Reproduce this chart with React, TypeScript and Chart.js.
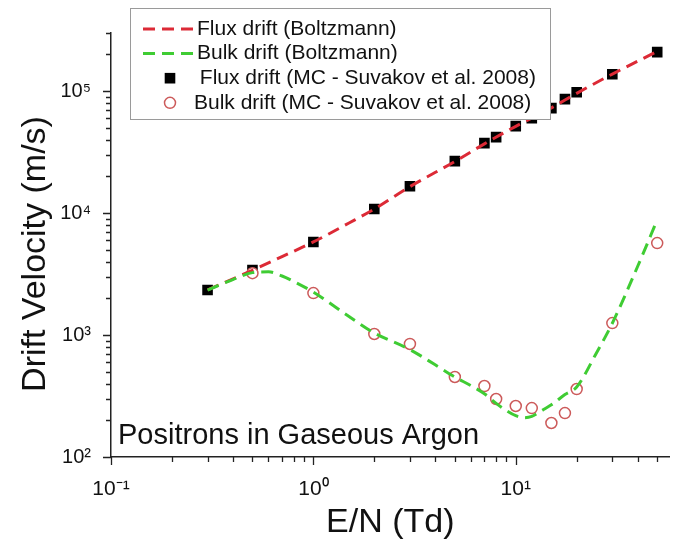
import React, { useEffect, useRef } from 'react';
import { Chart, registerables } from 'chart.js';

Chart.register(...registerables);

const FONT = '"Liberation Sans", Arial, Helvetica, sans-serif';

// ---- axes ----
const X_MIN = 0.1;
const X_MAX = 57.5;
const Y_MIN = 100;
const Y_MAX = 300000;
const X_MAJOR_TICKS = [0.1, 1, 10];
const X_TICK_LABELS = ['10⁻¹', '10⁰', '10¹'];
const Y_MAJOR_TICKS = [1e2, 1e3, 1e4, 1e5];
const Y_TICK_LABELS = ['10²', '10³', '10⁴', '10⁵'];
const X_TITLE = 'E/N (Td)';
const Y_TITLE = 'Drift Velocity (m/s)';
const NOTE = 'Positrons in Gaseous Argon';

// ---- data ----
// Monte Carlo (Suvakov et al. 2008)
const E_N_FLUX_MC = [0.3, 0.5, 1, 2, 3, 5, 7, 8, 10, 12, 15, 17.5, 20, 30, 50];
const FLUX_MC = [2340, 3410, 5790, 10800, 16600, 26700, 37500, 42000, 51700, 60100, 72600, 86000, 98100, 137800, 208900];
const E_N_BULK_MC = [0.5, 1, 2, 3, 5, 7, 8, 10, 12, 15, 17.5, 20, 30, 50];
const BULK_MC = [3220, 2210, 1020, 845, 453, 382, 299, 262, 252, 190, 229, 361, 1254, 5680];

// Boltzmann curves
const E_N_FLUX_BOLTZ = [0.3, 0.5, 0.7, 1, 1.5, 2, 3, 5, 7, 10, 15, 20, 30, 50];
const FLUX_BOLTZ = [2350, 3400, 4400, 5800, 8300, 10800, 16500, 26500, 37000, 51500, 73000, 96000, 138000, 212000];
const E_N_BULK_BOLTZ = [0.3, 0.4, 0.5, 0.6, 0.7, 0.8, 1, 1.5, 2, 3, 4, 5, 6, 7, 8, 9, 10, 11, 12, 13, 14, 15, 17.5, 20, 25, 30, 40, 50];
const BULK_BOLTZ = [2340, 2850, 3250, 3300, 3050, 2750, 2250, 1420, 1040, 760, 570, 453, 385, 330, 275, 240, 218, 210, 215, 232, 250, 268, 325, 375, 710, 1250, 3650, 8800];

const SERIES_LABELS = [
  'Flux drift (Boltzmann)',
  'Bulk drift (Boltzmann)',
  ' Flux drift (MC - Suvakov et al. 2008)',
  'Bulk drift (MC - Suvakov et al. 2008)',
];

const RED = '#dc2a36';
const GREEN = '#3fcc33';
const CIRCLE = '#cc5a5a';

const pts = (xs: number[], ys: number[]) => xs.map((x, i) => ({ x, y: ys[i] }));

function logTicks(min: number, max: number) {
  const out: { value: number; major: boolean }[] = [];
  const e0 = Math.floor(Math.log10(min));
  const e1 = Math.ceil(Math.log10(max));
  for (let e = e0; e <= e1; e++) {
    for (let m = 1; m <= 9; m++) {
      const v = parseFloat((m * Math.pow(10, e)).toPrecision(6));
      if (v >= min * 0.999 && v <= max * 1.001) out.push({ value: v, major: m === 1 });
    }
  }
  return out;
}

function labelFor(majors: number[], labels: string[]) {
  return (value: any) => {
    const v = Number(value);
    const i = majors.findIndex((m) => Math.abs(m - v) / m < 1e-6);
    return i >= 0 ? labels[i] : '';
  };
}

const decorPlugin = {
  id: 'decor',
  afterDraw(chart: any) {
    const ctx = chart.ctx;
    const xs = chart.scales.x;
    const ys = chart.scales.y;
    ctx.save();
    // tick marks
    ctx.strokeStyle = '#222';
    ctx.lineWidth = 1.3;
    ctx.setLineDash([]);
    ctx.beginPath();
    xs.ticks.forEach((t: any) => {
      const px = Math.round(xs.getPixelForValue(t.value)) + 0.5;
      const len = t.major ? 8 : 5;
      ctx.moveTo(px, xs.top);
      ctx.lineTo(px, xs.top + len);
    });
    ys.ticks.forEach((t: any) => {
      const py = Math.round(ys.getPixelForValue(t.value)) + 0.5;
      const len = t.major ? 8 : 5;
      ctx.moveTo(ys.right, py);
      ctx.lineTo(ys.right - len, py);
    });
    ctx.stroke();

    // axis titles
    ctx.fillStyle = '#111';
    ctx.font = `34px ${FONT}`;
    ctx.textAlign = 'center';
    ctx.textBaseline = 'alphabetic';
    ctx.fillText(X_TITLE, (chart.chartArea.left + chart.chartArea.right) / 2, 532);
    ctx.save();
    ctx.translate(45, 254);
    ctx.rotate(-Math.PI / 2);
    ctx.fillText(Y_TITLE, 0, 0);
    ctx.restore();

    // annotation
    ctx.font = `29px ${FONT}`;
    ctx.textAlign = 'left';
    ctx.fillText(NOTE, chart.chartArea.left + 7, 444);

    // legend
    const L = { left: 130, top: 8, width: 420, height: 111, firstRow: 21, gap: 24.6 };
    ctx.fillStyle = '#fff';
    ctx.fillRect(L.left, L.top, L.width, L.height);
    ctx.strokeStyle = '#9a9a9a';
    ctx.lineWidth = 1;
    ctx.strokeRect(L.left + 0.5, L.top + 0.5, L.width, L.height);
    ctx.font = `21px ${FONT}`;
    ctx.textBaseline = 'middle';
    chart.data.datasets.forEach((d: any, i: number) => {
      const cy = L.top + L.firstRow + i * L.gap;
      let tx = 194;
      if (d.showLine) {
        ctx.save();
        ctx.strokeStyle = d.borderColor;
        ctx.lineWidth = d.borderWidth;
        ctx.setLineDash(d.borderDash);
        ctx.beginPath();
        ctx.moveTo(143, cy);
        ctx.lineTo(195, cy);
        ctx.stroke();
        ctx.restore();
        tx = 197;
      } else if (d.pointStyle === 'rect') {
        const s = d.pointRadius * Math.SQRT2;
        ctx.fillStyle = d.backgroundColor;
        ctx.fillRect(170 - s / 2, cy - s / 2, s, s);
      } else {
        ctx.beginPath();
        ctx.arc(170, cy, d.pointRadius, 0, Math.PI * 2);
        ctx.fillStyle = d.backgroundColor;
        ctx.fill();
        ctx.strokeStyle = d.borderColor;
        ctx.lineWidth = d.borderWidth;
        ctx.stroke();
      }
      ctx.fillStyle = '#111';
      ctx.fillText(d.label, tx, cy);
    });
    ctx.restore();
  },
};

export default function App() {
  const ref = useRef<HTMLCanvasElement | null>(null);

  useEffect(() => {
    if (!ref.current) return;
    const chart = new Chart(ref.current, {
      type: 'scatter',
      data: {
        datasets: [
          {
            label: SERIES_LABELS[0],
            data: pts(E_N_FLUX_BOLTZ, FLUX_BOLTZ),
            showLine: true,
            borderColor: RED,
            backgroundColor: RED,
            borderWidth: 3,
            borderDash: [12, 7],
            pointRadius: 0,
            cubicInterpolationMode: 'monotone',
            order: 1,
          } as any,
          {
            label: SERIES_LABELS[1],
            data: pts(E_N_BULK_BOLTZ, BULK_BOLTZ),
            showLine: true,
            borderColor: GREEN,
            backgroundColor: GREEN,
            borderWidth: 3,
            borderDash: [12, 7],
            pointRadius: 0,
            cubicInterpolationMode: 'monotone',
            order: 0,
          },
          {
            label: SERIES_LABELS[2],
            data: pts(E_N_FLUX_MC, FLUX_MC),
            showLine: false,
            pointStyle: 'rect',
            pointRadius: 7.5,
            backgroundColor: '#000',
            borderColor: '#000',
            borderWidth: 0,
            order: 3,
          },
          {
            label: SERIES_LABELS[3],
            data: pts(E_N_BULK_MC, BULK_MC),
            showLine: false,
            pointStyle: 'circle',
            pointRadius: 5.5,
            backgroundColor: '#fff',
            borderColor: CIRCLE,
            borderWidth: 1.5,
            order: 2,
          },
        ],
      },
      options: {
        animation: false,
        responsive: false,
        layout: { padding: { top: 33, right: 0, bottom: 0, left: 0 } },
        plugins: { legend: { display: false }, tooltip: { enabled: false } },
        scales: {
          x: {
            type: 'logarithmic',
            position: 'bottom',
            min: X_MIN,
            max: X_MAX,
            afterBuildTicks: (s: any) => {
              s.ticks = logTicks(X_MIN, X_MAX);
            },
            afterFit: (s: any) => {
              s.height = 83;
            },
            grid: { display: false },
            border: { display: true, color: '#222', width: 1.5 },
            ticks: {
              autoSkip: false,
              maxRotation: 0,
              minRotation: 0,
              padding: 12,
              color: '#111',
              font: { family: FONT, size: 21 },
              callback: labelFor(X_MAJOR_TICKS, X_TICK_LABELS),
            },
          },
          y: {
            type: 'logarithmic',
            position: 'left',
            min: Y_MIN,
            max: Y_MAX,
            afterBuildTicks: (s: any) => {
              s.ticks = logTicks(Y_MIN, Y_MAX);
            },
            afterFit: (s: any) => {
              s.width = 111;
            },
            grid: { display: false },
            border: { display: true, color: '#222', width: 1.5 },
            ticks: {
              autoSkip: false,
              padding: 12,
              color: '#111',
              font: { family: FONT, size: 20 },
              callback: labelFor(Y_MAJOR_TICKS, Y_TICK_LABELS),
            },
          },
        },
      } as any,
      plugins: [decorPlugin],
    });
    return () => chart.destroy();
  }, []);

  return (
    <div style={{ position: 'fixed', left: 0, top: 0, width: 677, height: 540, background: '#fff' }}>
      <canvas ref={ref} width={677} height={540} style={{ display: 'block' }} />
    </div>
  );
}
